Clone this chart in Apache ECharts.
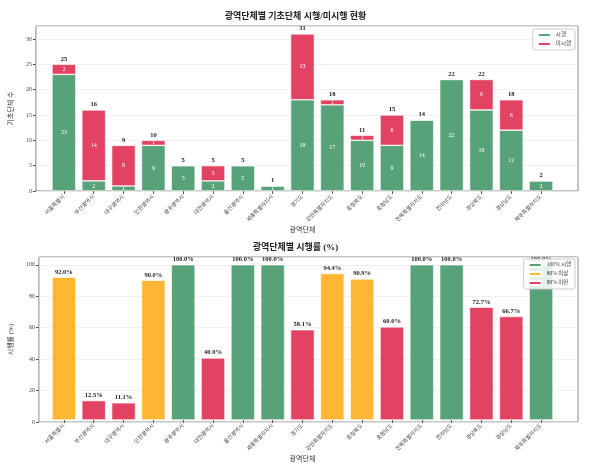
<!DOCTYPE html>
<html>
<head>
<meta charset="utf-8">
<script src="https://cdn.jsdelivr.net/npm/echarts@6/dist/echarts.min.js"></script>
<style>
  html, body { margin: 0; padding: 0; background: #fff; }
  #main { width: 591px; height: 464px; }
</style>
</head>
<body>
<div id="main"></div>
<script>
// 광역단체 목록
var regions = ['서울특별시', '부산광역시', '대구광역시', '인천광역시', '광주광역시', '대전광역시',
  '울산광역시', '세종특별자치시', '경기도', '강원특별자치도', '충청북도', '충청남도',
  '전북특별자치도', '전라남도', '경상북도', '경상남도', '제주특별자치도'];
// 시행 / 미시행 기초단체 수
var implemented    = [23, 2, 1, 9, 5, 2, 5, 1, 18, 17, 10, 9, 14, 22, 16, 12, 2];
var notImplemented = [2, 14, 8, 1, 0, 3, 0, 0, 13, 1, 1, 6, 0, 0, 6, 6, 0];
var totals         = [25, 16, 9, 10, 5, 5, 5, 1, 31, 18, 11, 15, 14, 22, 22, 18, 2];
// 시행률 (%)
var rates = [92.0, 12.5, 11.1, 90.0, 100.0, 40.0, 100.0, 100.0, 58.1, 94.4, 90.9, 60.0, 100.0, 100.0, 72.7, 66.7, 100.0];

var GREEN = '#58a279', RED = '#e34363', ORANGE = '#ffb733';
var FONT = "'Liberation Serif', 'Noto Sans CJK KR', serif";

var myChart = echarts.init(document.getElementById('main'));

// 시행률 구간별로 나누기
var full = [], high = [], low = [];
rates.forEach(function (r) {
  full.push(r >= 100 ? r : '-');
  high.push(r >= 80 && r < 100 ? r : '-');
  low.push(r < 80 ? r : '-');
});

function outerY(max, interval, name) {
  return {
    type: 'value', min: 0, max: max, interval: interval,
    name: name, nameLocation: 'middle', nameGap: 15,
    nameTextStyle: { fontFamily: FONT, fontSize: 7, color: '#333' },
    axisLine: { show: false },
    axisTick: { show: true, length: 3, lineStyle: { color: '#555' } },
    axisLabel: { fontFamily: FONT, fontSize: 6, color: '#444', margin: 4, showMaxLabel: false },
    splitLine: { lineStyle: { color: '#eee', width: 0.8 } }
  };
}

function innerX(gridIndex) {
  return {
    type: 'category', gridIndex: gridIndex, data: regions,
    name: '광역단체', nameLocation: 'middle', nameGap: 36,
    nameTextStyle: { fontFamily: FONT, fontSize: 7, color: '#333' },
    axisLine: { show: false },
    axisTick: { show: true, alignWithLabel: true, length: 3, lineStyle: { color: '#555' } },
    axisLabel: { rotate: 45, fontFamily: FONT, fontSize: 5.5, color: '#444', margin: 5, interval: 0 }
  };
}

var barLabelTop = { show: true, position: 'top', distance: 2, fontFamily: FONT, fontSize: 6.5, fontWeight: 'bold', color: '#222' };
var insideLabel = function (arr) {
  return {
    show: true, position: 'inside', fontFamily: FONT, fontSize: 6, color: '#fff',
    formatter: function (p) { return arr[p.dataIndex] > 0 ? String(arr[p.dataIndex]) : ''; }
  };
};

var option = {
  animation: false,
  title: [
    { text: '광역단체별 기초단체 시행/미시행 현황', left: 'center', top: 7,
      textStyle: { fontFamily: FONT, fontSize: 9, fontWeight: 'bold', color: '#222' } },
    { text: '광역단체별 시행률 (%)', left: 'center', top: 238,
      textStyle: { fontFamily: FONT, fontSize: 9, fontWeight: 'bold', color: '#222' } }
  ],
  legend: [
    { data: ['시행', '미시행'], orient: 'vertical', right: 16, top: 29,
      itemWidth: 13, itemHeight: 4, itemGap: 3, padding: [3, 4],
      textStyle: { fontFamily: FONT, fontSize: 5.5, color: '#333' },
      backgroundColor: 'rgba(255,255,255,0.85)', borderColor: '#ccc', borderWidth: 1, borderRadius: 2 },
    { data: ['100% 시행', '80% 이상', '80% 미만'], orient: 'vertical', right: 16, top: 259,
      itemWidth: 13, itemHeight: 4, itemGap: 3, padding: [3, 4],
      textStyle: { fontFamily: FONT, fontSize: 5.5, color: '#333' },
      backgroundColor: 'rgba(255,255,255,0.85)', borderColor: '#ccc', borderWidth: 1, borderRadius: 2 }
  ],
  grid: [
    { left: 27, right: 13, top: 26, bottom: 273, show: true, borderColor: '#888', borderWidth: 1, backgroundColor: 'transparent' },
    { left: 49, right: 35, top: 26, bottom: 273 },
    { left: 27, right: 13, top: 257, bottom: 42, show: true, borderColor: '#888', borderWidth: 1, backgroundColor: 'transparent' },
    { left: 49, right: 35, top: 257, bottom: 42 }
  ],
  xAxis: [
    { type: 'value', gridIndex: 0, show: false },
    innerX(1),
    { type: 'value', gridIndex: 2, show: false },
    innerX(3)
  ],
  yAxis: [
    Object.assign(outerY(32.55, 5, '기초단체 수'), { gridIndex: 0 }),
    { type: 'value', gridIndex: 1, min: 0, max: 32.55, show: false },
    Object.assign(outerY(105, 20, '시행률 (%)'), { gridIndex: 2 }),
    { type: 'value', gridIndex: 3, min: 0, max: 105, show: false }
  ],
  series: [
    { name: '시행', type: 'bar', stack: 'top', xAxisIndex: 1, yAxisIndex: 1, data: implemented,
      barWidth: '80%', itemStyle: { color: GREEN, borderColor: '#fff', borderWidth: 0.6 },
      label: insideLabel(implemented) },
    { name: '미시행', type: 'bar', stack: 'top', xAxisIndex: 1, yAxisIndex: 1, data: notImplemented,
      barWidth: '80%', itemStyle: { color: RED, borderColor: '#fff', borderWidth: 0.6 },
      label: insideLabel(notImplemented) },
    { name: '합계', type: 'bar', stack: 'top', xAxisIndex: 1, yAxisIndex: 1,
      data: totals.map(function () { return 0; }),
      barWidth: '80%', itemStyle: { color: 'transparent' },
      label: Object.assign({}, barLabelTop, { formatter: function (p) { return String(totals[p.dataIndex]); } }) },

    { name: '100% 시행', type: 'bar', stack: 'rate', xAxisIndex: 3, yAxisIndex: 3, data: full,
      barWidth: '80%', itemStyle: { color: GREEN, borderColor: '#fff', borderWidth: 0.6 },
      label: Object.assign({}, barLabelTop, { formatter: function (p) { return p.value.toFixed(1) + '%'; } }) },
    { name: '80% 이상', type: 'bar', stack: 'rate', xAxisIndex: 3, yAxisIndex: 3, data: high,
      barWidth: '80%', itemStyle: { color: ORANGE, borderColor: '#fff', borderWidth: 0.6 },
      label: Object.assign({}, barLabelTop, { formatter: function (p) { return p.value.toFixed(1) + '%'; } }) },
    { name: '80% 미만', type: 'bar', stack: 'rate', xAxisIndex: 3, yAxisIndex: 3, data: low,
      barWidth: '80%', itemStyle: { color: RED, borderColor: '#fff', borderWidth: 0.6 },
      label: Object.assign({}, barLabelTop, { formatter: function (p) { return p.value.toFixed(1) + '%'; } }) }
  ]
};

myChart.setOption(option);
</script>
</body>
</html>
